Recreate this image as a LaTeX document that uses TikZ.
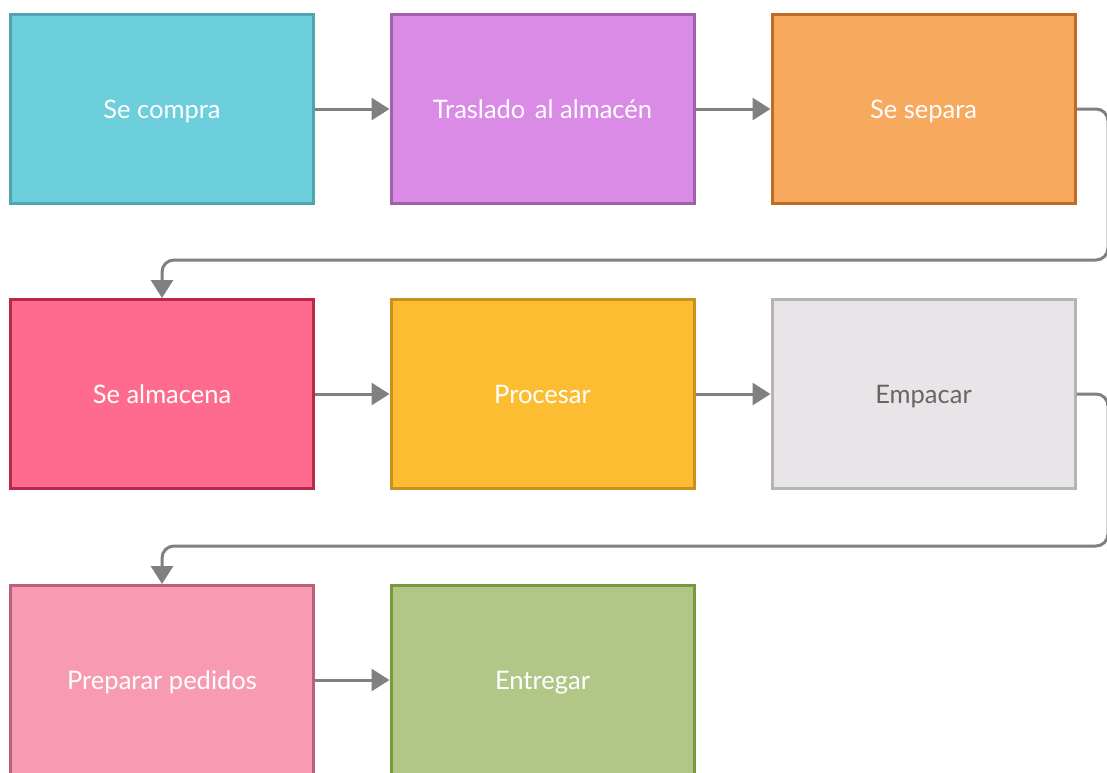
\documentclass[tikz,border=0pt]{standalone}
\usepackage{fontspec}
\setmainfont{Lato}
\usetikzlibrary{arrows.meta}
\definecolor{f1}{HTML}{6DCFDB}\definecolor{d1}{HTML}{52A5B0}
\definecolor{f2}{HTML}{D98BE6}\definecolor{d2}{HTML}{A15FAE}
\definecolor{f3}{HTML}{F7A95E}\definecolor{d3}{HTML}{C06B24}
\definecolor{f4}{HTML}{FF6B8E}\definecolor{d4}{HTML}{B8284A}
\definecolor{f5}{HTML}{FCBD33}\definecolor{d5}{HTML}{C8901D}
\definecolor{f6}{HTML}{E8E4E8}\definecolor{d6}{HTML}{B5B5B5}
\definecolor{f7}{HTML}{F89BB2}\definecolor{d7}{HTML}{BB6078}
\definecolor{f8}{HTML}{B2C687}\definecolor{d8}{HTML}{7A9A3A}
\definecolor{conn}{HTML}{808080}
\definecolor{graytext}{HTML}{666666}
\tikzset{
  box/.style={draw, line width=3pt, minimum width=303pt, minimum height=189pt, inner sep=0pt, font=\fontsize{25.5}{30}\selectfont, text=white, text height=24pt, text depth=5.4pt},
  link/.style={draw=conn, line width=3pt, -{Triangle[length=18pt,width=22pt]}, rounded corners=12pt}
}
\begin{document}
\begin{tikzpicture}[x=1pt,y=-1pt]
\useasboundingbox (0,0) rectangle (1107,772);
\clip (0,0) rectangle (1107,772);
\node[box, fill=f1, draw=d1] (a) at (162,109) {Se compra};
\node[box, fill=f2, draw=d2] (b) at (542.5,109) {Traslado\hspace{3pt} al almacén};
\node[box, fill=f3, draw=d3] (c) at (923.5,109) {Se separa};
\node[box, fill=f4, draw=d4] (d) at (162,394) {Se almacena};
\node[box, fill=f5, draw=d5] (e) at (542.5,394) {Procesar};
\node[box, fill=f6, draw=d6, text=graytext] (f) at (923.5,394) {Empacar};
\node[box, fill=f7, draw=d7] (g) at (162,680) {Preparar pedidos};
\node[box, fill=f8, draw=d8] (h) at (542.5,680) {Entregar};
\draw[link] (a.east) -- (b.west);
\draw[link] (b.east) -- (c.west);
\draw[link] (d.east) -- (e.west);
\draw[link] (e.east) -- (f.west);
\draw[link] (g.east) -- (h.west);
\coordinate (r1) at (1108,260);
\coordinate (r2) at (1108,546);
\draw[link] (c.east) -| (r1) -| (d.north);
\draw[link] (f.east) -| (r2) -| (g.north);
\end{tikzpicture}
\end{document}
